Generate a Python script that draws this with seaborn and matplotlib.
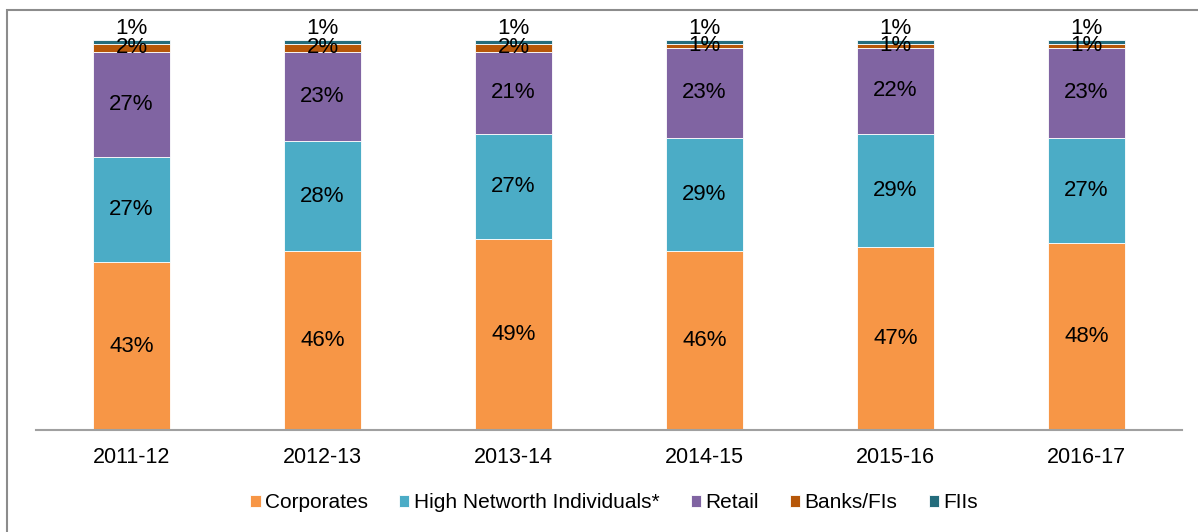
import numpy as np
import pandas as pd
import matplotlib
matplotlib.use("Agg")
import matplotlib.pyplot as plt
from matplotlib.patches import Rectangle
import seaborn as sns

years = ["2011-12", "2012-13", "2013-14", "2014-15", "2015-16", "2016-17"]
corporates = [43, 46, 49, 46, 47, 48]
hni = [27, 28, 27, 29, 29, 27]
retail = [27, 23, 21, 23, 22, 23]
banks = [2, 2, 2, 1, 1, 1]
fiis = [1, 1, 1, 1, 1, 1]

series = [
    ("Corporates", corporates, "#F79646"),
    ("High Networth Individuals*", hni, "#4BACC6"),
    ("Retail", retail, "#8064A2"),
    ("Banks/FIs", banks, "#B65708"),
    ("FIIs", fiis, "#236C7C"),
]

sns.set_style("white")
plt.rcParams["font.family"] = ["Liberation Sans", "DejaVu Sans"]
plt.rcParams["text.color"] = "black"
plt.rcParams["xtick.color"] = "black"

fig = plt.figure(figsize=(11.98, 5.32), dpi=100)
ax = fig.add_axes([36 / 1198, 102 / 532, 1146 / 1198, 390 / 532])

bottom = np.zeros(len(years))
for name, vals, color in series:
    df = pd.DataFrame({"year": years, "pct": vals})
    sns.barplot(data=df, x="year", y="pct", color=color, width=0.4,
                bottom=bottom.copy(), edgecolor="white", linewidth=0.6,
                label=name, ax=ax, saturation=1)
    bottom += np.array(vals)

for i, (cont, (name, vals, color)) in enumerate(zip(ax.containers, series)):
    labels = [f"{v}%" for v in vals]
    if i == len(series) - 1:
        ax.bar_label(cont, labels=labels, label_type="edge", padding=1,
                     fontsize=16, color="black")
    else:
        ax.bar_label(cont, labels=labels, label_type="center",
                     fontsize=16, color="black")

ax.set_ylim(0, 100)
ax.set_xlim(-0.5, 5.5)
ax.set_xlabel("")
ax.set_ylabel("")
ax.set_yticks([])
ax.tick_params(axis="x", length=0, pad=12, labelsize=15.5, labelcolor="black")
for s in ["top", "right", "left"]:
    ax.spines[s].set_visible(False)
ax.spines["bottom"].set_color("#A0A0A0")
ax.spines["bottom"].set_linewidth(1.5)

ax.legend(loc="center", bbox_to_anchor=(614 / 1198, 29 / 532),
          bbox_transform=fig.transFigure, ncol=5, frameon=False,
          fontsize=15, handlelength=0.5, handleheight=0.5,
          handletextpad=0.2, columnspacing=1.5)

fig.patches.append(Rectangle((7 / 1198, -0.1), 1.2, (522 / 532) + 0.1,
                             transform=fig.transFigure, fill=False,
                             edgecolor="#8C8C8C", linewidth=1.5))

fig.savefig("out.png", dpi=100)
